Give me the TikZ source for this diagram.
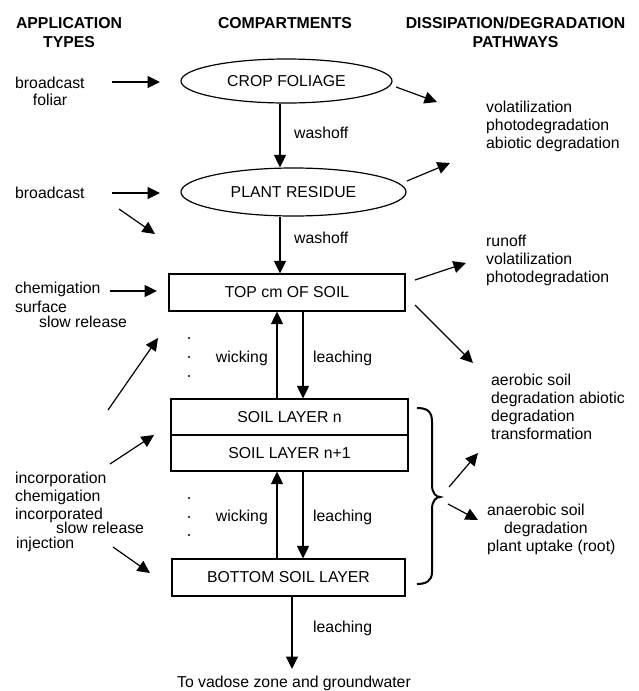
\documentclass[tikz,border=0pt]{standalone}
\usepackage{fontspec}
\setmainfont{Liberation Sans}
\usetikzlibrary{arrows.meta,shapes.geometric}
\begin{document}
\begin{tikzpicture}[x=1pt,y=-1pt,
  every node/.style={font=\fontsize{15.8}{18}\selectfont, inner sep=0pt},
  lbl/.style={anchor=base west},
  lblr/.style={anchor=base east},
  hdr/.style={font=\fontsize{15.8}{19}\selectfont\bfseries, align=center, anchor=north},
  arr/.style={-{Triangle[length=12.5pt,width=12pt]}, line width=1.2pt},
  comp/.style={ellipse, draw, line width=1.2pt},
  box/.style={rectangle, draw, line width=1.2pt}
]
\useasboundingbox[fill=white] (0,0) rectangle (638,691);

% headers
\node[hdr] (h1) at (69,17.3) {APPLICATION\\TYPES};
\node[hdr] (h2) at (285,17.3) {COMPARTMENTS};
\node[hdr] (h3) at (515.5,17.3) {DISSIPATION/DEGRADATION\\PATHWAYS};

% compartments
\node[comp, minimum width=211pt, minimum height=44pt] (crop) at (286.5,81) {CROP FOLIAGE};
\node[comp, minimum width=225pt, minimum height=48pt] (residue) at (293.5,192) {PLANT RESIDUE};
\node[box, minimum width=236pt, minimum height=37pt] (top) at (287,292.5) {TOP cm OF SOIL};
\node[box, minimum width=237pt, minimum height=36pt] (soiln) at (289.5,417) {SOIL LAYER n};
\node[box, minimum width=237pt, minimum height=36pt] (soiln1) at (289.5,453) {SOIL LAYER n+1};
\node[box, minimum width=233pt, minimum height=37pt] (bottom) at (288.5,577.5) {BOTTOM SOIL LAYER};
\node[anchor=base] (vadose) at (294,687) {To vadose zone and groundwater};
\coordinate (vad) at (292,669);

% vertical flows
\coordinate (xw) at (280,0);
\coordinate (xu) at (277,0);
\coordinate (xd) at (303,0);
\coordinate (xb) at (292,0);
\draw[arr] (crop.south -| xw) -- (residue.north -| xw);
\draw[arr] (residue.south -| xw) -- (top.north -| xw);
\draw[arr] (soiln.north -| xu) -- (top.south -| xu);
\draw[arr] (top.south -| xd) -- (soiln.north -| xd);
\draw[arr] (bottom.north -| xu) -- (soiln1.south -| xu);
\draw[arr] (soiln1.south -| xd) -- (bottom.north -| xd);
\draw[arr] (bottom.south -| xb) -- (vad);

\node[lbl] (w1) at (294,138) {washoff};
\node[lbl] (w2) at (294,243) {washoff};
\node[lblr] (wk1) at (268,362) {wicking};
\node[lbl] (l1) at (313,362) {leaching};
\node[lblr] (wk2) at (268,521) {wicking};
\node[lbl] (l2) at (313,521) {leaching};
\node[lbl] (l3) at (313,632) {leaching};

% dots
\foreach \yy in {338,357,376,498,517,535} \fill (189,\yy) circle (1.2pt);

% application types
\node[lbl] (a1) at (15,88) {broadcast};
\node[anchor=base] (a1b) at (50,105) {foliar};
\node[lbl] (a2) at (15,198) {broadcast};
\node[lbl] (a3) at (15,293) {chemigation};
\node[lbl] (a4) at (15,312) {surface};
\node[lbl] (a5) at (39,327) {slow release};
\node[lbl] (a6) at (15,483) {incorporation};
\node[lbl] (a7) at (15,501) {chemigation};
\node[lbl] (a8) at (15,519) {incorporated};
\node[lbl] (a9) at (56,533) {slow release};
\node[lbl] (a10) at (16,548) {injection};

\coordinate (p1s) at (112,82);  \coordinate (p1e) at (160,82);
\coordinate (p2s) at (112,193); \coordinate (p2e) at (160,193);
\coordinate (p3s) at (119,209); \coordinate (p3e) at (155,234);
\coordinate (p4s) at (110,291); \coordinate (p4e) at (157,291);
\coordinate (p5s) at (108,410); \coordinate (p5e) at (158,338);
\coordinate (p6s) at (110,464); \coordinate (p6e) at (154,435);
\coordinate (p7s) at (113,547); \coordinate (p7e) at (150,573);
\draw[arr] (p1s) -- (p1e);
\draw[arr] (p2s) -- (p2e);
\draw[arr] (p3s) -- (p3e);
\draw[arr] (p4s) -- (p4e);
\draw[arr] (p5s) -- (p5e);
\draw[arr] (p6s) -- (p6e);
\draw[arr] (p7s) -- (p7e);

% pathways
\node[lbl] (d1) at (486,112) {volatilization};
\node[lbl] (d2) at (486,130) {photodegradation};
\node[lbl] (d3) at (486,148) {abiotic degradation};
\node[lbl] (e1) at (486,246) {runoff};
\node[lbl] (e2) at (486,264) {volatilization};
\node[lbl] (e3) at (486,282) {photodegradation};
\node[lbl] (f1) at (491,385) {aerobic soil};
\node[lbl] (f2) at (491,403) {degradation abiotic};
\node[lbl] (f3) at (491,421) {degradation};
\node[lbl] (f4) at (491,439) {transformation};
\node[lbl] (g1) at (487,515) {anaerobic soil};
\node[lbl] (g2) at (504,533) {degradation};
\node[lbl] (g3) at (487,551) {plant uptake (root)};

\coordinate (q1s) at (396,87);  \coordinate (q1e) at (437,102);
\coordinate (q2s) at (407,181); \coordinate (q2e) at (450,163);
\coordinate (q3s) at (415,280); \coordinate (q3e) at (466,263);
\coordinate (q4s) at (415,305); \coordinate (q4e) at (473,363);
\coordinate (q5s) at (449,487); \coordinate (q5e) at (478,453);
\coordinate (q6s) at (448,504); \coordinate (q6e) at (478,520);
\draw[arr] (q1s) -- (q1e);
\draw[arr] (q2s) -- (q2e);
\draw[arr] (q3s) -- (q3e);
\draw[arr] (q4s) -- (q4e);
\draw[arr] (q5s) -- (q5e);
\draw[arr] (q6s) -- (q6e);

% brace
\draw[line width=2pt] (417,408) .. controls (428,408) and (432,412) .. (432,422) -- (432,485)
  .. controls (432,493) and (436,497) .. (440,497)
  .. controls (436,497) and (432,501) .. (432,509) -- (432,572)
  .. controls (432,581) and (426,584) .. (417,584);
\end{tikzpicture}
\end{document}
